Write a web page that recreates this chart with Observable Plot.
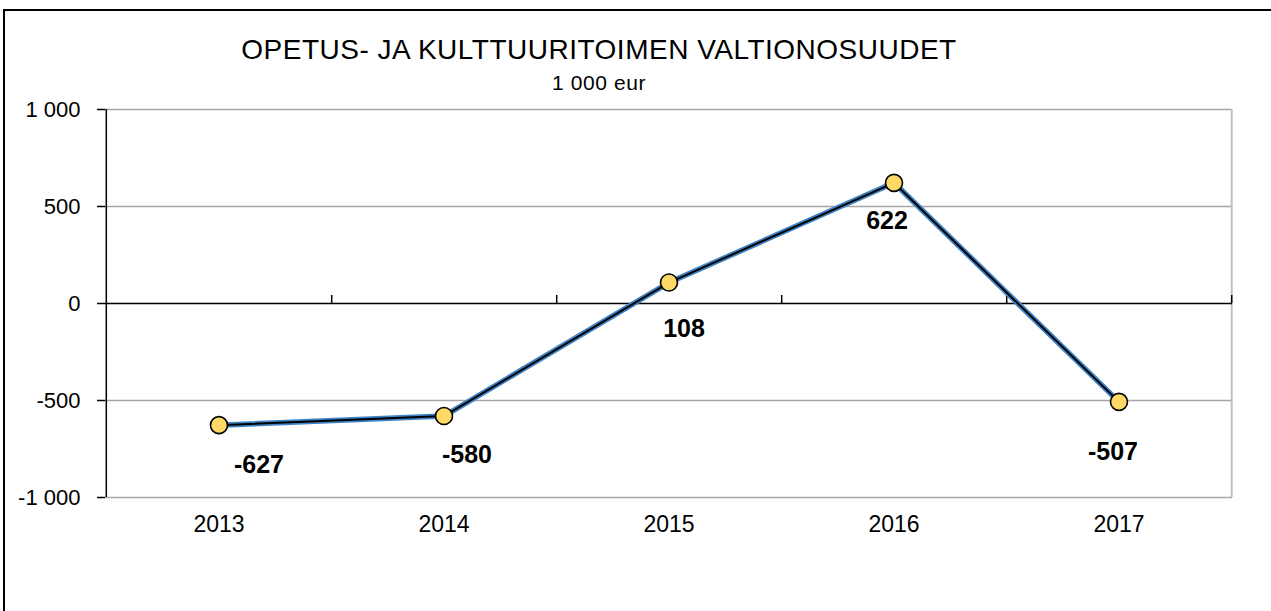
<!DOCTYPE html>
<html>
<head>
<meta charset="utf-8">
<script src="https://cdn.jsdelivr.net/npm/d3@7"></script>
<script src="https://cdn.jsdelivr.net/npm/@observablehq/plot@0.6"></script>
<style>
  html, body { margin: 0; padding: 0; background: #fff; }
  body { width: 1271px; height: 611px; overflow: hidden; position: relative; font-family: "Liberation Sans", Arial, sans-serif; }
  #frame { position: absolute; left: 3px; top: 9px; width: 1300px; height: 700px; border-left: 2px solid #000; border-top: 2px solid #000; box-sizing: border-box; }
  #chart { position: absolute; left: 0; top: 0; }
  .title { position: absolute; left: 0; width: 1198px; text-align: center; color: #000; white-space: nowrap; }
  #t1 { top: 34px; font-size: 28px; letter-spacing: 0.5px; }
  #t2 { top: 71px; font-size: 21px; letter-spacing: 0.6px; }
</style>
</head>
<body>
<div id="frame"></div>
<div id="chart"></div>
<div class="title" id="t1">OPETUS- JA KULTTUURITOIMEN VALTIONOSUUDET</div>
<div class="title" id="t2">1 000 eur</div>
<script>
const years = ["2013", "2014", "2015", "2016", "2017"];
const values = [-627, -580, 108, 622, -507];
const yTicks = [-1000, -500, 0, 500, 1000];
const gridTicks = [-1000, -500, 500, 1000];

const data = years.map((y, i) => ({year: y, value: values[i]}));
const fmt = v => (v < 0 ? "-" : "") + d3.format(",")(Math.abs(v)).replace(/,/g, " ");

const W = 1271, H = 611;
const mL = 105, mR = 39, mT = 109, mB = 114;
const plotW = W - mL - mR;
const half = plotW / years.length / 2;

// per-label offsets (px) replicating label placement
const labelOffsets = [[40, 40], [23, 39], [15, 46], [-7, 38], [-6, 50]];

const labelMarks = data.map((d, i) => Plot.text([d], {
  x: "year", y: "value", text: d => fmt(d.value),
  dx: labelOffsets[i][0], dy: labelOffsets[i][1],
  fontSize: 25, fontWeight: "bold", fill: "#000"
}));

const chart = Plot.plot({
  width: W, height: H,
  marginLeft: mL, marginRight: mR, marginTop: mT, marginBottom: mB,
  style: {fontFamily: "'Liberation Sans', Arial, sans-serif", color: "#000", background: "transparent", overflow: "visible"},
  x: {type: "band", domain: years, padding: 0, axis: null},
  y: {domain: [-1000, 1000], axis: null},
  marks: [
    Plot.ruleY(gridTicks, {stroke: "#a6a6a6", strokeWidth: 1.5}),
    Plot.ruleX([years[years.length - 1]], {x: d => d, dx: half, stroke: "#bfbfbf", strokeWidth: 2}),
    Plot.ruleX([years[0]], {x: d => d, dx: -half, stroke: "#000", strokeWidth: 1.5}),
    Plot.ruleY([0], {stroke: "#000", strokeWidth: 1.5}),
    Plot.ruleX(years, {x: d => d, y1: 0, y2: 0, dx: half, insetTop: -8, stroke: "#000", strokeWidth: 1.5}),
    Plot.ruleY(yTicks, {y: d => d, insetLeft: -8, insetRight: plotW, stroke: "#000", strokeWidth: 1.5}),
    Plot.text(yTicks, {y: d => d, text: d => fmt(d), frameAnchor: "left", textAnchor: "end", dx: -25, fontSize: 22, fill: "#000"}),
    Plot.text(years, {x: d => d, text: d => d, frameAnchor: "bottom", lineAnchor: "top", dy: 18, fontSize: 23, fill: "#000"}),
    Plot.line(data, {x: "year", y: "value", stroke: "#3f83c6", strokeWidth: 5.5}),
    Plot.line(data, {x: "year", y: "value", stroke: "#000", strokeWidth: 2}),
    Plot.dot(data, {x: "year", y: "value", r: 8.5, fill: "#ffd966", stroke: "#000", strokeWidth: 1.6}),
    ...labelMarks
  ]
});
document.getElementById("chart").appendChild(chart);
</script>
</body>
</html>
